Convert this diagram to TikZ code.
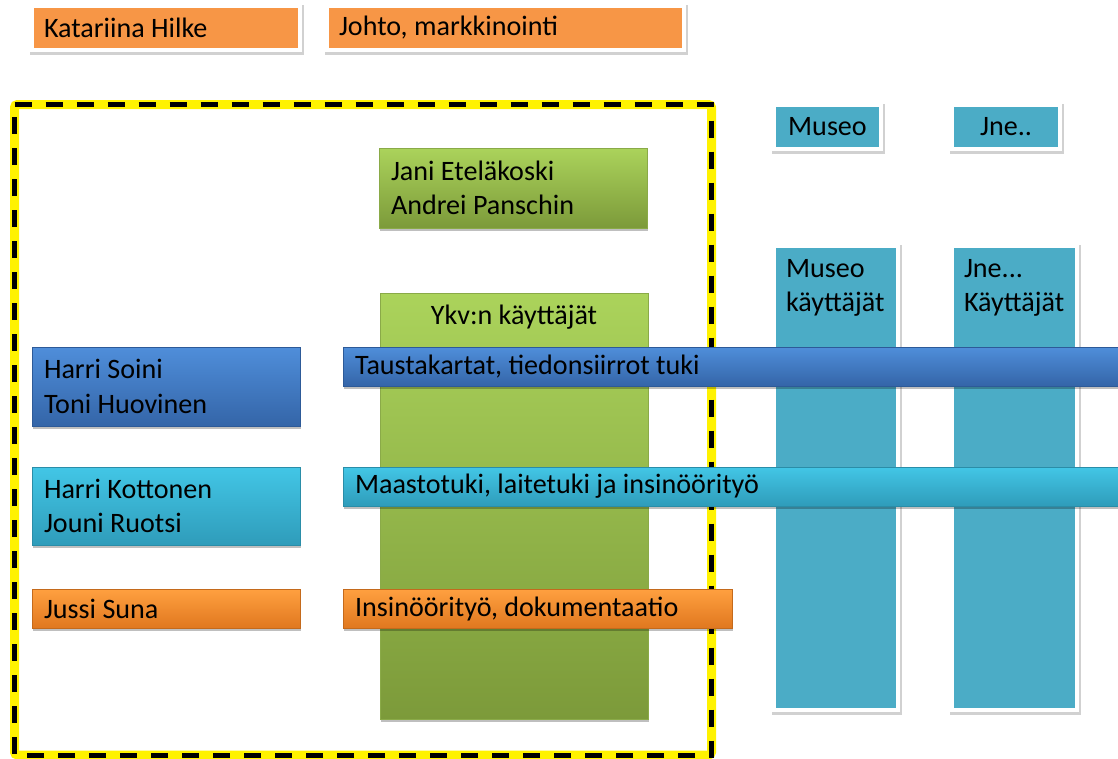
\documentclass[tikz,border=0pt]{standalone}
\usepackage{fontspec}
\setmainfont{Carlito}
\usetikzlibrary{positioning, shadows}
\newlength\pxu
\setlength\pxu{0.02cm}
\definecolor{flatorange}{HTML}{F79646}
\definecolor{flatteal}{HTML}{4BACC6}
\definecolor{blueTop}{HTML}{4F8EDA}
\definecolor{blueBot}{HTML}{3465A8}
\definecolor{blueEdge}{HTML}{2D5A98}
\definecolor{cyanTop}{HTML}{42C6E6}
\definecolor{cyanBot}{HTML}{2F9CBA}
\definecolor{cyanEdge}{HTML}{2A8DA8}
\definecolor{orTop}{HTML}{FFA040}
\definecolor{orBot}{HTML}{E0781F}
\definecolor{orEdge}{HTML}{C46A1C}
\definecolor{grTop}{HTML}{ABD35B}
\definecolor{grBot}{HTML}{7C9A3A}
\definecolor{grEdge}{HTML}{8AAA48}
\tikzset{
	every node/.append style={
		font={\fontsize{16}{19.5}\selectfont},
		outer sep=0mm,
	},
	softshadow/.style={
		drop shadow={shadow xshift=1\pxu, shadow yshift=-3\pxu, opacity=0.25, fill=black}
	},
	frameshadow/.style={
		drop shadow={shadow xshift=0.5\pxu, shadow yshift=-2\pxu, opacity=0.18, fill=black, draw=black, line width=6\pxu}
	},
	flatbox/.append style={
		draw=white,
		line width=4\pxu,
		anchor=north west,
		inner xsep=12\pxu, inner ysep=0mm,
		frameshadow,
	},
	bar/.append style={
		anchor=north west,
		align=flush left,
		inner xsep=12\pxu, inner ysep=0mm,
		line width=0.8\pxu,
		softshadow,
	},
	bluebar/.style={bar, top color=blueTop, bottom color=blueBot, draw=blueEdge},
	cyanbar/.style={bar, top color=cyanTop, bottom color=cyanBot, draw=cyanEdge},
	orangebar/.style={bar, top color=orTop, bottom color=orBot, draw=orEdge},
	greenbox/.style={bar, top color=grTop, bottom color=grBot, draw=grEdge},
	lbl/.style={inner sep=0mm, align=left},
	framebase/.style={draw=yellow, line width=9\pxu, rounded corners=3\pxu},
	framedash/.style={draw=black, line width=5\pxu, dash pattern=on 17\pxu off 14\pxu},
}

\begin{document}
\begin{tikzpicture}[x=1\pxu, y=-1\pxu]
\useasboundingbox (0,0) rectangle (1118,758);

% top row
\node(kat)[flatbox, fill=flatorange, text width=244\pxu, minimum height=44\pxu, align=flush left] at (32,6) {Katariina Hilke};
\node(johto)[flatbox, fill=flatorange, text width=333\pxu, minimum height=44\pxu, align=flush left, anchor=west, right=27\pxu of kat] {Johto, markkinointi};

% group frame
\draw[framebase] (14.5,104.5) rectangle (711.5,755);
\draw[framedash] (14.5,104.5) -- (711.5,104.5) -- (711.5,755) -- (14.5,755) -- cycle;

% other users
\node(museo)[flatbox, fill=flatteal, text width=83\pxu, minimum height=44\pxu, align=flush center] at (774,105) {Museo};
\node(jne)[flatbox, fill=flatteal, text width=84\pxu, minimum height=44\pxu, align=flush center] at (952,105) {Jne..};

\node(museoU)[flatbox, fill=flatteal, minimum width=124\pxu, minimum height=464\pxu] at (774,246) {};
\node(museoUlbl)[lbl, below right=13\pxu and 12\pxu of museoU.north west] {Museo\\käyttäjät};
\node(jneU)[flatbox, fill=flatteal, minimum width=125\pxu, minimum height=464\pxu] at (952,246) {};
\node(jneUlbl)[lbl, below right=13\pxu and 12\pxu of jneU.north west] {Jne...\\Käyttäjät};

% ykv
\node(jani)[greenbox, text width=244\pxu, minimum height=80\pxu] at (379,148) {Jani Eteläkoski\\Andrei Panschin};
\node(ykv)[greenbox, minimum width=268\pxu, minimum height=426\pxu] at (380,293) {};
\node(ykvlbl) at ([yshift=-24\pxu]ykv.north) {Ykv:n käyttäjät};

% people and tasks
\node(soini)[bluebar, text width=244\pxu, minimum height=79\pxu] at (32,347) {Harri Soini\\Toni Huovinen};
\node(kottonen)[cyanbar, text width=244\pxu, minimum height=78\pxu, anchor=north, below=41\pxu of soini] {Harri Kottonen\\Jouni Ruotsi};
\node(suna)[orangebar, text width=244\pxu, minimum height=39\pxu, anchor=north, below=44\pxu of kottonen] {Jussi Suna};

\node(tausta)[bluebar, text width=766\pxu, minimum height=39\pxu] at ([xshift=43\pxu]soini.north east) {Taustakartat, tiedonsiirrot tuki};
\node(maasto)[cyanbar, text width=766\pxu, minimum height=39\pxu] at ([xshift=43\pxu]kottonen.north east) {Maastotuki, laitetuki ja insinöörityö};
\node(insin)[orangebar, text width=365\pxu, minimum height=39\pxu] at ([xshift=43\pxu]suna.north east) {Insinöörityö, dokumentaatio};

\end{tikzpicture}
\end{document}
